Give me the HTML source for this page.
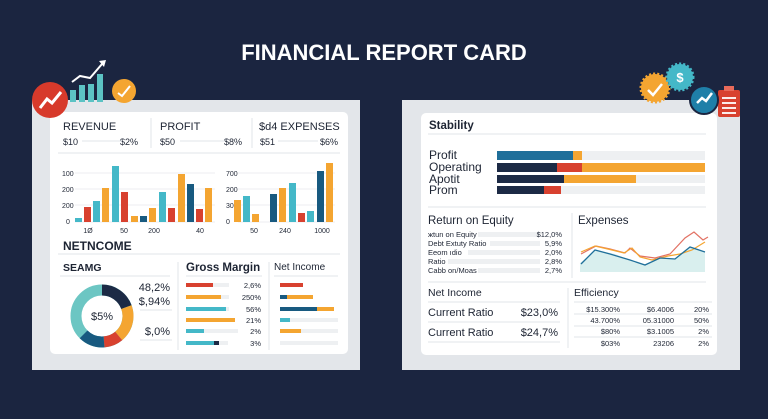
<!DOCTYPE html>
<html><head><meta charset="utf-8"><style>
html,body{margin:0;padding:0;background:#1b2540;}
svg{display:block;}
text{font-family:"Liberation Sans",sans-serif;fill:#1d2433;}
</style></head><body>
<svg width="768" height="419" viewBox="0 0 768 419" xmlns="http://www.w3.org/2000/svg">
<rect width="768" height="419" fill="#1b2540"/>
<text x="384" y="60" text-anchor="middle" font-size="22" font-weight="bold" style="fill:#fff">FINANCIAL REPORT CARD</text>

<!-- LEFT CARD -->
<rect x="32" y="100" width="328" height="270" fill="#e3e6ea"/>
<rect x="50" y="112" width="298" height="242" rx="5" fill="#fff"/>
<g font-size="11">
<text x="63" y="130">REVENUE</text><text x="160" y="130">PROFIT</text><text x="259" y="130">$d4  EXPENSES</text>
</g>
<line x1="151" y1="118" x2="151" y2="148" stroke="#e2e5ea"/><line x1="252" y1="118" x2="252" y2="148" stroke="#e2e5ea"/>
<g font-size="9">
<text x="63" y="145">$10</text><text x="138" y="145" text-anchor="end">$2%</text>
<text x="160" y="145">$50</text><text x="242" y="145" text-anchor="end">$8%</text>
<text x="260" y="145">$51</text><text x="338" y="145" text-anchor="end">$6%</text>
</g>
<g stroke="#e2e5ea"><line x1="82" y1="141" x2="122" y2="141"/><line x1="180" y1="141" x2="225" y2="141"/><line x1="278" y1="141" x2="318" y2="141"/><line x1="58" y1="153" x2="340" y2="153"/></g>
<!-- chart 1 -->
<g stroke="#eceef1"><line x1="75" y1="173" x2="215" y2="173"/><line x1="75" y1="189" x2="215" y2="189"/><line x1="75" y1="205" x2="215" y2="205"/><line x1="75" y1="222" x2="215" y2="222"/>
<line x1="238" y1="173" x2="335" y2="173"/><line x1="238" y1="189" x2="335" y2="189"/><line x1="238" y1="205" x2="335" y2="205"/><line x1="238" y1="222" x2="335" y2="222"/></g>
<g font-size="7"><text x="62" y="176">100</text><text x="62" y="192">200</text><text x="62" y="208">200</text><text x="66" y="224">0</text>
<text x="226" y="176">700</text><text x="226" y="192">200</text><text x="226" y="208">30</text><text x="226" y="224">0</text>
<text x="88" y="233" text-anchor="middle">1Ø</text><text x="124" y="233" text-anchor="middle">50</text><text x="154" y="233" text-anchor="middle">200</text><text x="200" y="233" text-anchor="middle">40</text>
<text x="254" y="233" text-anchor="middle">50</text><text x="285" y="233" text-anchor="middle">240</text><text x="322" y="233" text-anchor="middle">1000</text></g>
<g>
<rect x="75" y="218" width="7" height="4" fill="#44b8c8"/><rect x="84" y="207" width="7" height="15" fill="#d8412f"/>
<rect x="93" y="201" width="7" height="21" fill="#44b8c8"/><rect x="102" y="188" width="7" height="34" fill="#f4a531"/>
<rect x="112" y="166" width="7" height="56" fill="#44b8c8"/><rect x="121" y="192" width="7" height="30" fill="#d8412f"/>
<rect x="131" y="216" width="7" height="6" fill="#f4a531"/><rect x="140" y="216" width="7" height="6" fill="#185a80"/>
<rect x="149" y="208" width="7" height="14" fill="#f4a531"/><rect x="159" y="192" width="7" height="30" fill="#44b8c8"/>
<rect x="168" y="208" width="7" height="14" fill="#d8412f"/><rect x="178" y="174" width="7" height="48" fill="#f4a531"/>
<rect x="187" y="184" width="7" height="38" fill="#185a80"/><rect x="196" y="209" width="7" height="13" fill="#d8412f"/>
<rect x="205" y="188" width="7" height="34" fill="#f4a531"/>
<rect x="234" y="200" width="7" height="22" fill="#f4a531"/><rect x="243" y="196" width="7" height="26" fill="#44b8c8"/>
<rect x="252" y="214" width="7" height="8" fill="#f4a531"/><rect x="270" y="194" width="7" height="28" fill="#185a80"/>
<rect x="279" y="188" width="7" height="34" fill="#f4a531"/><rect x="289" y="183" width="7" height="39" fill="#44b8c8"/>
<rect x="298" y="213" width="7" height="9" fill="#d8412f"/><rect x="307" y="211" width="7" height="11" fill="#44b8c8"/>
<rect x="317" y="171" width="7" height="51" fill="#185a80"/><rect x="326" y="163" width="7" height="59" fill="#f4a531"/>
</g>
<text x="63" y="250" font-size="12" font-weight="bold">NETNCOME</text>
<line x1="58" y1="254" x2="340" y2="254" stroke="#e2e5ea"/>
<text x="63" y="271" font-size="10.5" font-weight="bold">SEAMG</text>
<line x1="60" y1="276" x2="170" y2="276" stroke="#e2e5ea"/>
<!-- donut -->
<g fill="none" stroke-width="11">
<circle cx="102" cy="316" r="26" stroke="#6cc6c3"/>
<path d="M102 290 A26 26 0 0 1 126.4 307.1" stroke="#1c2a45"/>
<path d="M126.4 307.1 A26 26 0 0 1 118.7 336" stroke="#f4a531"/>
<path d="M118.7 336 A26 26 0 0 1 104 341.9" stroke="#d8412f"/>
<path d="M104 341.9 A26 26 0 0 1 83.6 334.4" stroke="#185a80"/>
</g>
<text x="102" y="320" font-size="11" text-anchor="middle">$5%</text>
<g font-size="11"><text x="170" y="291" text-anchor="end">48,2%</text><text x="170" y="305" text-anchor="end">$,94%</text><text x="170" y="335" text-anchor="end">$,0%</text></g>
<g stroke="#e2e5ea"><line x1="140" y1="310" x2="172" y2="310"/><line x1="140" y1="340" x2="172" y2="340"/><line x1="178" y1="262" x2="178" y2="350"/><line x1="269" y1="262" x2="269" y2="350"/>
<line x1="186" y1="276" x2="262" y2="276"/><line x1="274" y1="276" x2="338" y2="276"/></g>
<text x="186" y="271" font-size="11.5" font-weight="bold">Gross Margin</text>
<text x="274" y="270" font-size="10">Net Income</text>
<g>
<rect x="186" y="283" width="43" height="4" fill="#eef0f2"/><rect x="186" y="283" width="27" height="4" fill="#d8412f"/>
<rect x="186" y="295" width="43" height="4" fill="#eef0f2"/><rect x="186" y="295" width="35" height="4" fill="#f4a531"/>
<rect x="186" y="307" width="43" height="4" fill="#eef0f2"/><rect x="186" y="307" width="40" height="4" fill="#44b8c8"/>
<rect x="186" y="318" width="49" height="4" fill="#f4a531"/>
<rect x="186" y="329" width="52" height="4" fill="#eef0f2"/><rect x="186" y="329" width="18" height="4" fill="#44b8c8"/>
<rect x="186" y="341" width="42" height="4" fill="#eef0f2"/><rect x="186" y="341" width="28" height="4" fill="#44b8c8"/><rect x="214" y="341" width="5" height="4" fill="#1c2a45"/>
</g>
<g font-size="7.5" text-anchor="end"><text x="261" y="288">2,6%</text><text x="261" y="300">250%</text><text x="261" y="312">56%</text><text x="261" y="323">21%</text><text x="261" y="334">2%</text><text x="261" y="346">3%</text></g>
<g>
<rect x="280" y="283" width="23" height="4" fill="#d8412f"/>
<rect x="280" y="295" width="7" height="4" fill="#185a80"/><rect x="287" y="295" width="26" height="4" fill="#f4a531"/>
<rect x="280" y="307" width="37" height="4" fill="#185a80"/><rect x="317" y="307" width="17" height="4" fill="#f4a531"/>
<rect x="280" y="318" width="58" height="4" fill="#eef0f2"/><rect x="280" y="318" width="10" height="4" fill="#44b8c8"/>
<rect x="280" y="329" width="58" height="4" fill="#eef0f2"/><rect x="280" y="329" width="21" height="4" fill="#f4a531"/>
<rect x="280" y="341" width="58" height="4" fill="#eef0f2"/>
</g>

<!-- left icons -->
<g>
<rect x="70" y="90" width="6" height="12" fill="#5cc3c4"/><rect x="79" y="85" width="6" height="17" fill="#5cc3c4"/><rect x="88" y="84" width="6" height="18" fill="#5cc3c4"/><rect x="97" y="74" width="6" height="28" fill="#5cc3c4"/>
<polyline points="72,82 80,76 90,78 102,64" fill="none" stroke="#fff" stroke-width="2"/><polygon points="99,61 106,60 104,67" fill="#fff"/>
<circle cx="50" cy="100" r="18" fill="#d73a2b"/><polyline points="40,108 47,99 52,103 61,92" fill="none" stroke="#fff" stroke-width="3"/>
<circle cx="124" cy="91" r="12" fill="#f4a531"/><polyline points="118,93 122,96 130,86" fill="none" stroke="#fff" stroke-width="2"/>
</g>

<!-- RIGHT CARD -->
<rect x="402" y="100" width="338" height="270" fill="#e3e6ea"/>
<rect x="421" y="113" width="296" height="242" rx="5" fill="#fff"/>
<text x="429" y="129" font-size="11.5" font-weight="bold">Stability</text>
<line x1="428" y1="134" x2="706" y2="134" stroke="#e2e5ea"/>
<g font-size="12"><text x="429" y="159">Profit</text><text x="429" y="171">Operating</text><text x="429" y="183">Apotit</text><text x="429" y="194">Prom</text></g>
<g>
<rect x="497" y="151" width="208" height="9" fill="#eef0f2"/><rect x="497" y="151" width="76" height="9" fill="#1f6f9a"/><rect x="573" y="151" width="9" height="9" fill="#f4a531"/>
<rect x="497" y="163" width="208" height="9" fill="#f4a531"/><rect x="497" y="163" width="60" height="9" fill="#1c2a45"/><rect x="557" y="163" width="25" height="9" fill="#d8412f"/>
<rect x="497" y="175" width="208" height="8" fill="#eef0f2"/><rect x="497" y="175" width="67" height="8" fill="#1c2a45"/><rect x="564" y="175" width="72" height="8" fill="#f4a531"/>
<rect x="497" y="186" width="208" height="8" fill="#eef0f2"/><rect x="497" y="186" width="47" height="8" fill="#1c2a45"/><rect x="544" y="186" width="17" height="8" fill="#d8412f"/>
</g>
<line x1="428" y1="207" x2="706" y2="207" stroke="#e2e5ea"/>
<text x="428" y="224" font-size="11.5">Return on Equity</text>
<g fill="#eef0f2"><rect x="478" y="232" width="62" height="5"/><rect x="490" y="241" width="50" height="5"/><rect x="468" y="250" width="72" height="5"/><rect x="448" y="259" width="92" height="5"/><rect x="478" y="268" width="62" height="5"/></g>
<g font-size="7.5"><text x="428" y="237">жtun on Equity</text><text x="428" y="246">Debt Extuty Ratio</text><text x="428" y="255">Eeom ıdio</text><text x="428" y="264">Ratio</text><text x="428" y="273">Cabb on/Moas</text></g>
<g font-size="7.5" text-anchor="end"><text x="562" y="237">$12,0%</text><text x="562" y="246">5,9%</text><text x="562" y="255">2,0%</text><text x="562" y="264">2,8%</text><text x="562" y="273">2,7%</text></g>
<line x1="572" y1="213" x2="572" y2="278" stroke="#e2e5ea"/>
<text x="578" y="224" font-size="11.5">Expenses</text>
<path d="M580 263 L596 250 L615 254 L630 260 L645 265 L660 258 L675 259 L690 247 L705 252 L705 272 L580 272Z" fill="#d9efee"/>
<polyline points="581,254 596,246 610,249 625,253 630,248 640,256 655,258 670,254 685,238 694,232 703,240 708,237" fill="none" stroke="#d8412f" stroke-width="1.2" opacity=".75"/>
<polyline points="581,252 595,246 612,250 624,253 632,248 640,257 652,260 668,256 680,254 692,250 705,242" fill="none" stroke="#f4a531" stroke-width="1.2"/>
<polyline points="581,264 595,250 610,254 630,260 645,265 660,258 675,259 690,247 705,252" fill="none" stroke="#1f6f9a" stroke-width="1.3"/>
<line x1="428" y1="282" x2="706" y2="282" stroke="#e2e5ea"/>
<text x="428" y="296" font-size="10.5">Net Income</text>
<g stroke="#e2e5ea"><line x1="428" y1="302" x2="560" y2="302"/><line x1="428" y1="322" x2="560" y2="322"/><line x1="428" y1="342" x2="560" y2="342"/><line x1="568" y1="288" x2="568" y2="348"/>
<line x1="574" y1="302" x2="712" y2="302"/><line x1="574" y1="314" x2="712" y2="314"/><line x1="574" y1="326" x2="712" y2="326"/><line x1="574" y1="337" x2="712" y2="337"/></g>
<g font-size="11"><text x="428" y="316">Current Ratio</text><text x="428" y="336">Current Ratio</text>
<text x="558" y="316" text-anchor="end">$23,0%</text><text x="558" y="336" text-anchor="end">$24,7%</text></g>
<text x="574" y="296" font-size="10.5">Efficiency</text>
<g font-size="7.5" text-anchor="end">
<text x="620" y="312">$15.300%</text><text x="674" y="312">$6.4006</text><text x="709" y="312">20%</text>
<text x="620" y="323">43.700%</text><text x="674" y="323">05.31000</text><text x="709" y="323">50%</text>
<text x="620" y="334">$80%</text><text x="674" y="334">$3.1005</text><text x="709" y="334">2%</text>
<text x="620" y="346">$03%</text><text x="674" y="346">23206</text><text x="709" y="346">2%</text>
</g>

<!-- right icons -->
<g>
<circle cx="655" cy="88" r="14" fill="#f4a531" stroke="#f4a531" stroke-width="3" stroke-dasharray="2 2"/><polyline points="648,90 653,95 662,84" fill="none" stroke="#fff" stroke-width="2.5"/>
<circle cx="680" cy="77" r="13" fill="#44b8c8" stroke="#44b8c8" stroke-width="3" stroke-dasharray="2 2"/><text x="680" y="82" font-size="13" font-weight="bold" text-anchor="middle" style="fill:#fff">$</text>
<rect x="718" y="90" width="22" height="27" rx="2" fill="#d8412f"/><rect x="724" y="86" width="10" height="5" fill="#e86a5a"/>
<g stroke="#fff" stroke-width="1.8"><line x1="722" y1="98" x2="736" y2="98"/><line x1="722" y1="103" x2="736" y2="103"/><line x1="722" y1="108" x2="736" y2="108"/><line x1="722" y1="113" x2="736" y2="113"/></g>
<circle cx="704" cy="100" r="14" fill="#1f7fa8" stroke="#1b2540" stroke-width="2"/><polyline points="697,103 702,98 706,101 712,93" fill="none" stroke="#fff" stroke-width="2.5"/>
</g>
</svg>
</body></html>
